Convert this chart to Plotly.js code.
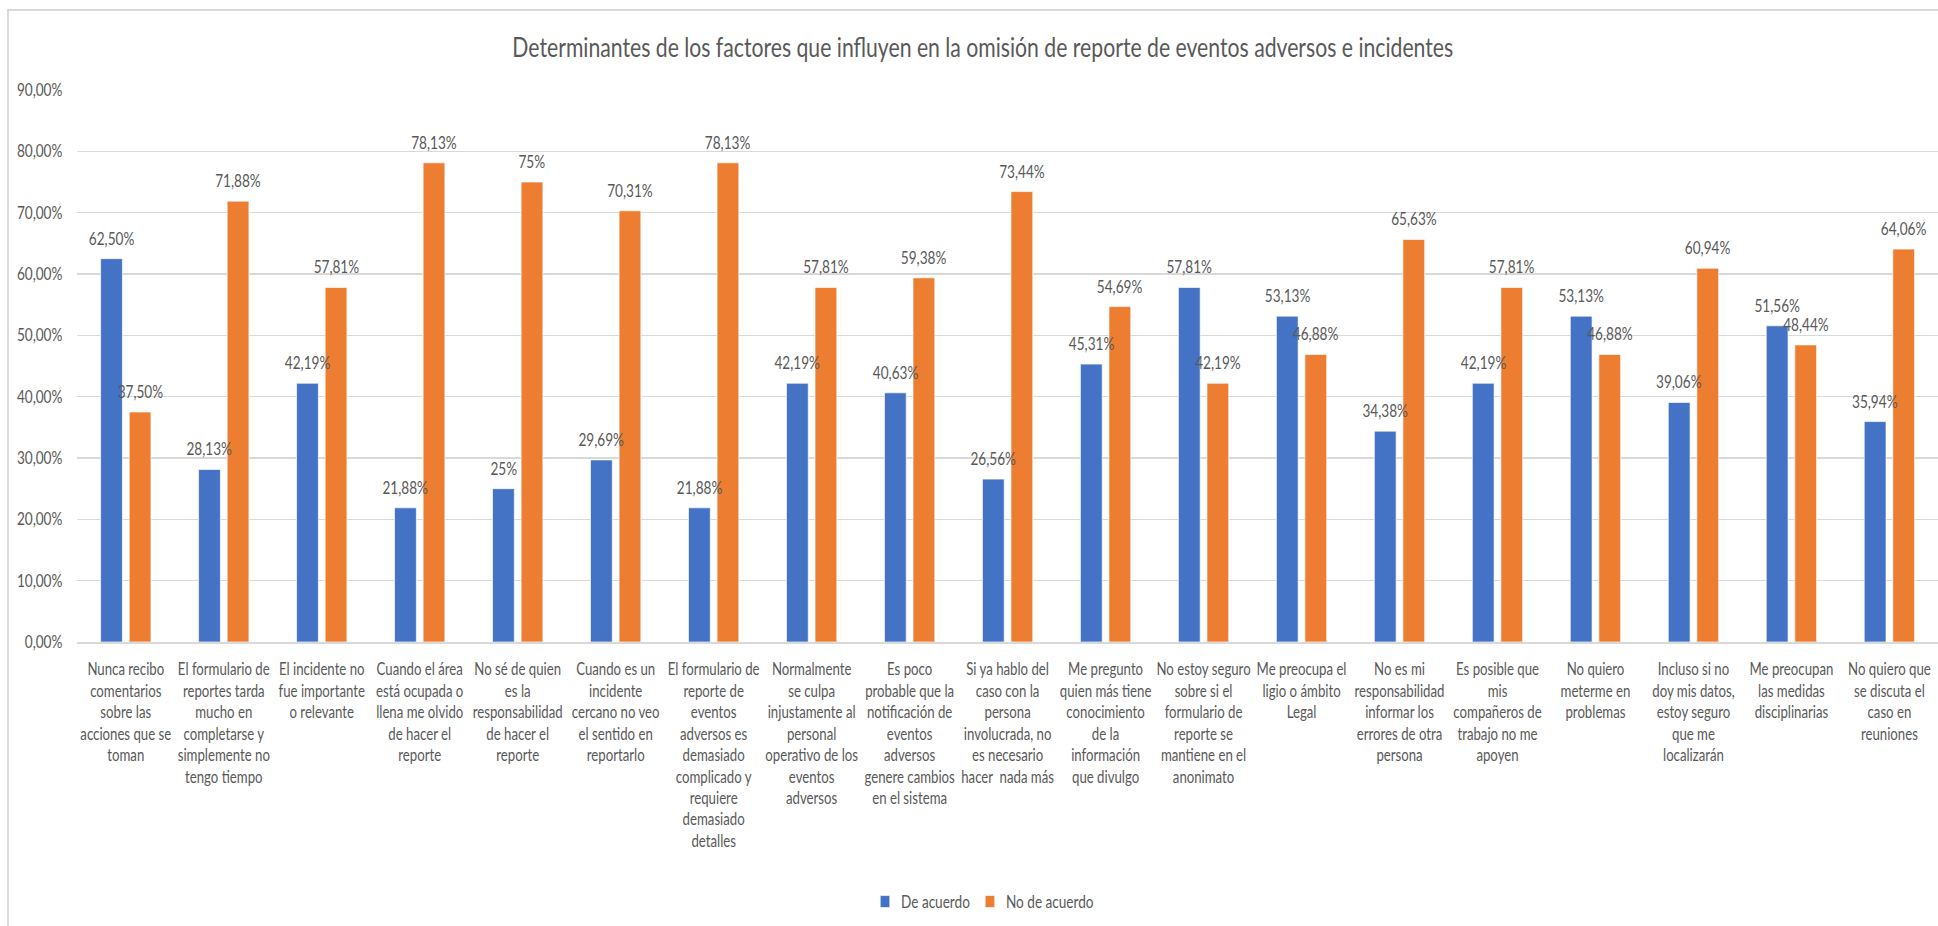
<!DOCTYPE html>
<html>
<head>
<meta charset="utf-8">
<script src="https://cdn.plot.ly/plotly-3.0.1.min.js"></script>
<style>
  html, body { margin: 0; padding: 0; background: #ffffff; overflow: hidden; width: 1938px; height: 926px; }
  #wrap { position: relative; width: 1938px; height: 926px; overflow: hidden; }
  #chart { position: absolute; left: 0; top: 0; width: 2423px; height: 926px;
           transform: scaleX(0.8); transform-origin: 0 0; }
  #frame { position: absolute; left: 7px; top: 9px; width: 2000px; height: 1000px;
           border: 2px solid #D9D9D9; pointer-events: none; box-sizing: border-box; }
</style>
</head>
<body>
<div id="wrap">
  <div id="chart"></div>
  <div id="frame"></div>
</div>
<script>
const categories = [
  "Nunca recibo<br>comentarios<br>sobre las<br>acciones que se<br>toman",
  "El formulario de<br>reportes tarda<br>mucho en<br>completarse y<br>simplemente no<br>tengo tiempo",
  "El incidente no<br>fue importante<br>o relevante",
  "Cuando el área<br>está ocupada o<br>llena me olvido<br>de hacer el<br>reporte",
  "No sé de quien<br>es la<br>responsabilidad<br>de hacer el<br>reporte",
  "Cuando es un<br>incidente<br>cercano no veo<br>el sentido en<br>reportarlo",
  "El formulario de<br>reporte de<br>eventos<br>adversos es<br>demasiado<br>complicado y<br>requiere<br>demasiado<br>detalles",
  "Normalmente<br>se culpa<br>injustamente al<br>personal<br>operativo de los<br>eventos<br>adversos",
  "Es poco<br>probable que la<br>notificación de<br>eventos<br>adversos<br>genere cambios<br>en el sistema",
  "Si ya hablo del<br>caso con la<br>persona<br>involucrada, no<br>es necesario<br>hacer  nada más",
  "Me pregunto<br>quien más tiene<br>conocimiento<br>de la<br>información<br>que divulgo",
  "No estoy seguro<br>sobre si el<br>formulario de<br>reporte se<br>mantiene en el<br>anonimato",
  "Me preocupa el<br>ligio o ámbito<br>Legal",
  "No es mi<br>responsabilidad<br>informar los<br>errores de otra<br>persona",
  "Es posible que<br>mis<br>compañeros de<br>trabajo no me<br>apoyen",
  "No quiero<br>meterme en<br>problemas",
  "Incluso si no<br>doy mis datos,<br>estoy seguro<br>que me<br>localizarán",
  "Me preocupan<br>las medidas<br>disciplinarias",
  "No quiero que<br>se discuta el<br>caso en<br>reuniones"
];

const deAcuerdo = [62.50, 28.13, 42.19, 21.88, 25, 29.69, 21.88, 42.19, 40.63, 26.56,
                   45.31, 57.81, 53.13, 34.38, 42.19, 53.13, 39.06, 51.56, 35.94];
const noDeAcuerdo = [37.50, 71.88, 57.81, 78.13, 75, 70.31, 78.13, 57.81, 59.38, 73.44,
                     54.69, 42.19, 46.88, 65.63, 57.81, 46.88, 60.94, 48.44, 64.06];

const seriesNames = ["De acuerdo", "No de acuerdo"];
const seriesColors = ["#4472C4", "#ED7D31"];
const titleText = "Determinantes de los factores que influyen en la omisión de reporte de eventos adversos e incidentes";

function fmt(v) {
  return (Number.isInteger(v) ? String(v) : v.toFixed(2).replace('.', ',')) + '%';
}

const FONT = 'Lato, "Open Sans", sans-serif';
const TXT = '#595959';
const seriesValues = [deAcuerdo, noDeAcuerdo];

const W = 2423, H = 926;
const M = { l: 96, r: 0, t: 90, b: 284, pad: 0 };
const BARGAP = 0.417, BARGROUPGAP = 0.237;

const traces = seriesValues.map((vals, i) => ({
  type: 'bar',
  name: seriesNames[i],
  x: categories,
  y: vals,
  marker: { color: seriesColors[i], line: { color: '#ffffff', width: 0.75 } },
  hoverinfo: 'none'
}));

// data labels as annotations so they sit on top of every bar
const catW = (W - M.l - M.r) / categories.length;
const slotW = catW * (1 - BARGAP) / seriesValues.length;
const annotations = [];
seriesValues.forEach((vals, s) => {
  const shift = (s - (seriesValues.length - 1) / 2) * slotW;
  vals.forEach((v, i) => {
    annotations.push({
      x: i, y: v, xref: 'x', yref: 'y',
      text: fmt(v),
      showarrow: false,
      xanchor: 'center', yanchor: 'bottom',
      xshift: shift, yshift: 8,
      font: { family: FONT, size: 17, color: TXT }
    });
  });
});

const layout = {
  width: W,
  height: H,
  margin: M,
  paper_bgcolor: 'rgba(0,0,0,0)',
  plot_bgcolor: 'rgba(0,0,0,0)',
  separators: ',.',
  font: { family: FONT, color: TXT, size: 17 },
  title: {
    text: titleText,
    font: { family: FONT, size: 26.5, color: TXT, weight: 400 },
    x: 0.507, xref: 'container', xanchor: 'center',
    y: 1 - 48 / 926, yref: 'container', yanchor: 'middle'
  },
  barmode: 'group',
  bargap: BARGAP,
  bargroupgap: BARGROUPGAP,
  xaxis: {
    type: 'category',
    tickangle: 0,
    showgrid: false,
    showline: true,
    linecolor: '#D9D9D9',
    linewidth: 1.5,
    ticks: '',
    ticklabelstandoff: 12,
    tickfont: { family: FONT, size: 16.5, color: TXT },
    automargin: false
  },
  yaxis: {
    range: [0, 90],
    dtick: 10,
    tick0: 0,
    tickformat: '.2f',
    ticksuffix: '%',
    showgrid: true,
    gridcolor: '#D9D9D9',
    gridwidth: 1.5,
    zeroline: false,
    showline: false,
    ticks: '',
    ticklabelstandoff: 17,
    tickfont: { family: FONT, size: 17, color: TXT },
    automargin: false
  },
  annotations: annotations,
  showlegend: true,
  legend: {
    orientation: 'h',
    x: 0.487, xanchor: 'center',
    y: -0.471, yanchor: 'middle',
    font: { family: FONT, size: 17, color: TXT },
    bgcolor: 'rgba(0,0,0,0)',
    itemwidth: 30
  }
};

Plotly.newPlot('chart', traces, layout, { displayModeBar: false, staticPlot: true });
</script>
</body>
</html>
